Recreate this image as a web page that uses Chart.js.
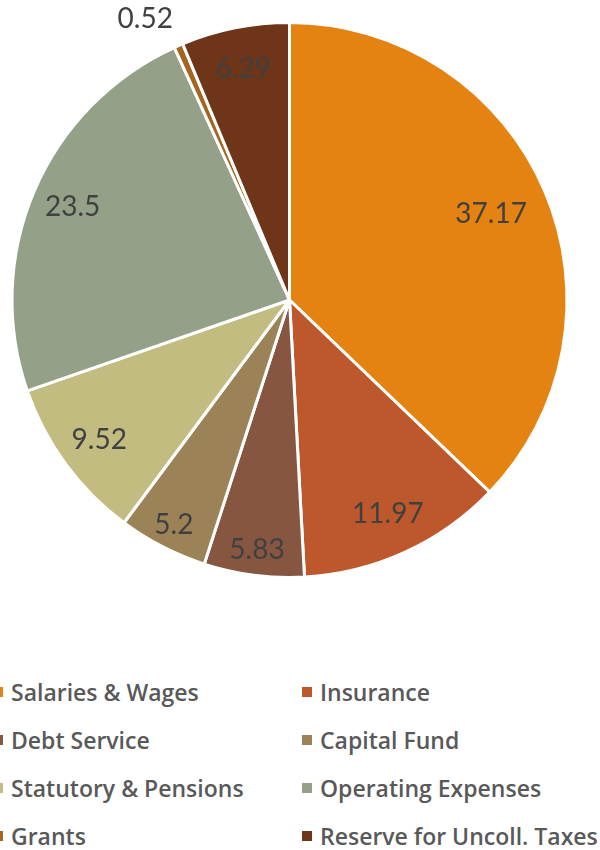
<!DOCTYPE html>
<html>
<head>
<meta charset="utf-8">
<script src="https://cdn.jsdelivr.net/npm/chart.js@4/dist/chart.umd.min.js"></script>
<style>
  html, body { margin: 0; padding: 0; background: #fff; }
  #wrap { position: relative; width: 600px; height: 850px; overflow: hidden; }
  #chartBox { position: absolute; left: 0; top: 0; width: 600px; height: 600px; }
  #legend { position: absolute; left: 0; top: 676px; width: 600px; font-family: "Open Sans", sans-serif; font-size: 23px; font-weight: 600; color: #595959; }
  .item { position: absolute; display: flex; align-items: center; white-space: nowrap; height: 31px; }
  .box { width: 10px; height: 10px; margin-right: 8px; }
</style>
</head>
<body>
<div id="wrap">
  <div id="chartBox"><canvas id="pie_chart_area"></canvas></div>
  <div id="legend"></div>
</div>
<script>
"use strict"
var categories = ["Salaries & Wages", "Insurance", "Debt Service", "Capital Fund", "Statutory & Pensions", "Operating Expenses", "Grants", "Reserve for Uncoll. Taxes"];
var values = [37.17, 11.97, 5.83, 5.2, 9.52, 23.5, 0.52, 6.29];
var colors = ["#E48312", "#BD582C", "#865640", "#9B8357", "#C2BC80", "#94A088", "#A5651F", "#6F3518"];

// draws the value of each slice on / near the slice
var sliceLabels = {
    id: 'sliceLabels',
    afterDatasetsDraw: function(chart){
        var ctx = chart.ctx;
        var meta = chart.getDatasetMeta(0);
        var total = values.reduce(function(a, b){ return a + b; }, 0);
        ctx.save();
        ctx.font = '28px Lato, sans-serif';
        ctx.fillStyle = '#404040';
        meta.data.forEach(function(arc, i){
            var p = arc.getProps(['x', 'y', 'startAngle', 'endAngle', 'outerRadius']);
            var mid = (p.startAngle + p.endAngle) / 2;
            var share = values[i] / total;
            var cos = Math.cos(mid), sin = Math.sin(mid);
            if (share < 0.02) {
                // outside label, anchored by its nearest corner
                var ro = p.outerRadius * 1.05;
                ctx.textAlign = cos < 0 ? 'right' : 'left';
                ctx.textBaseline = sin < 0 ? 'bottom' : 'top';
                ctx.fillText(String(values[i]), p.x + cos * ro, p.y + sin * ro);
                return;
            }
            var k = share > 0.3 ? 0.79 : (share < 0.06 ? 0.91 : 0.85);
            var r = p.outerRadius * k;
            ctx.textAlign = 'center';
            ctx.textBaseline = 'middle';
            ctx.fillText(String(values[i]), p.x + cos * r, p.y + sin * r);
        });
        ctx.restore();
    }
};

var pieChartArea = document.getElementById("pie_chart_area");
var pieChart = new Chart(pieChartArea, {
    type: 'pie',
    data: {
        labels: categories,
        datasets: [
            {
                data: values,
                backgroundColor: colors,
                borderColor: "#ffffff",
                borderWidth: 3
            }
        ]
    },
    options: {
        responsive: true,
        maintainAspectRatio: false,
        animation: false,
        layout: { padding: { left: 0, right: 21, top: 21, bottom: 21 } },
        plugins: {
            legend: { display: false },
            tooltip: { enabled: false }
        }
    },
    plugins: [sliceLabels]
});

// html legend in two columns, built from the chart's labels
var legendEl = document.getElementById("legend");
var items = Chart.controllers.pie.overrides.plugins.legend.labels.generateLabels(pieChart);
items.forEach(function(item, i){
    var div = document.createElement("div");
    div.className = "item";
    div.style.left = (i % 2 === 0 ? -7 : 302) + "px";
    div.style.top = (Math.floor(i / 2) * 48.3) + "px";
    var box = document.createElement("span");
    box.className = "box";
    box.style.background = item.fillStyle;
    div.appendChild(box);
    div.appendChild(document.createTextNode(item.text));
    legendEl.appendChild(div);
});
</script>
</body>
</html>
